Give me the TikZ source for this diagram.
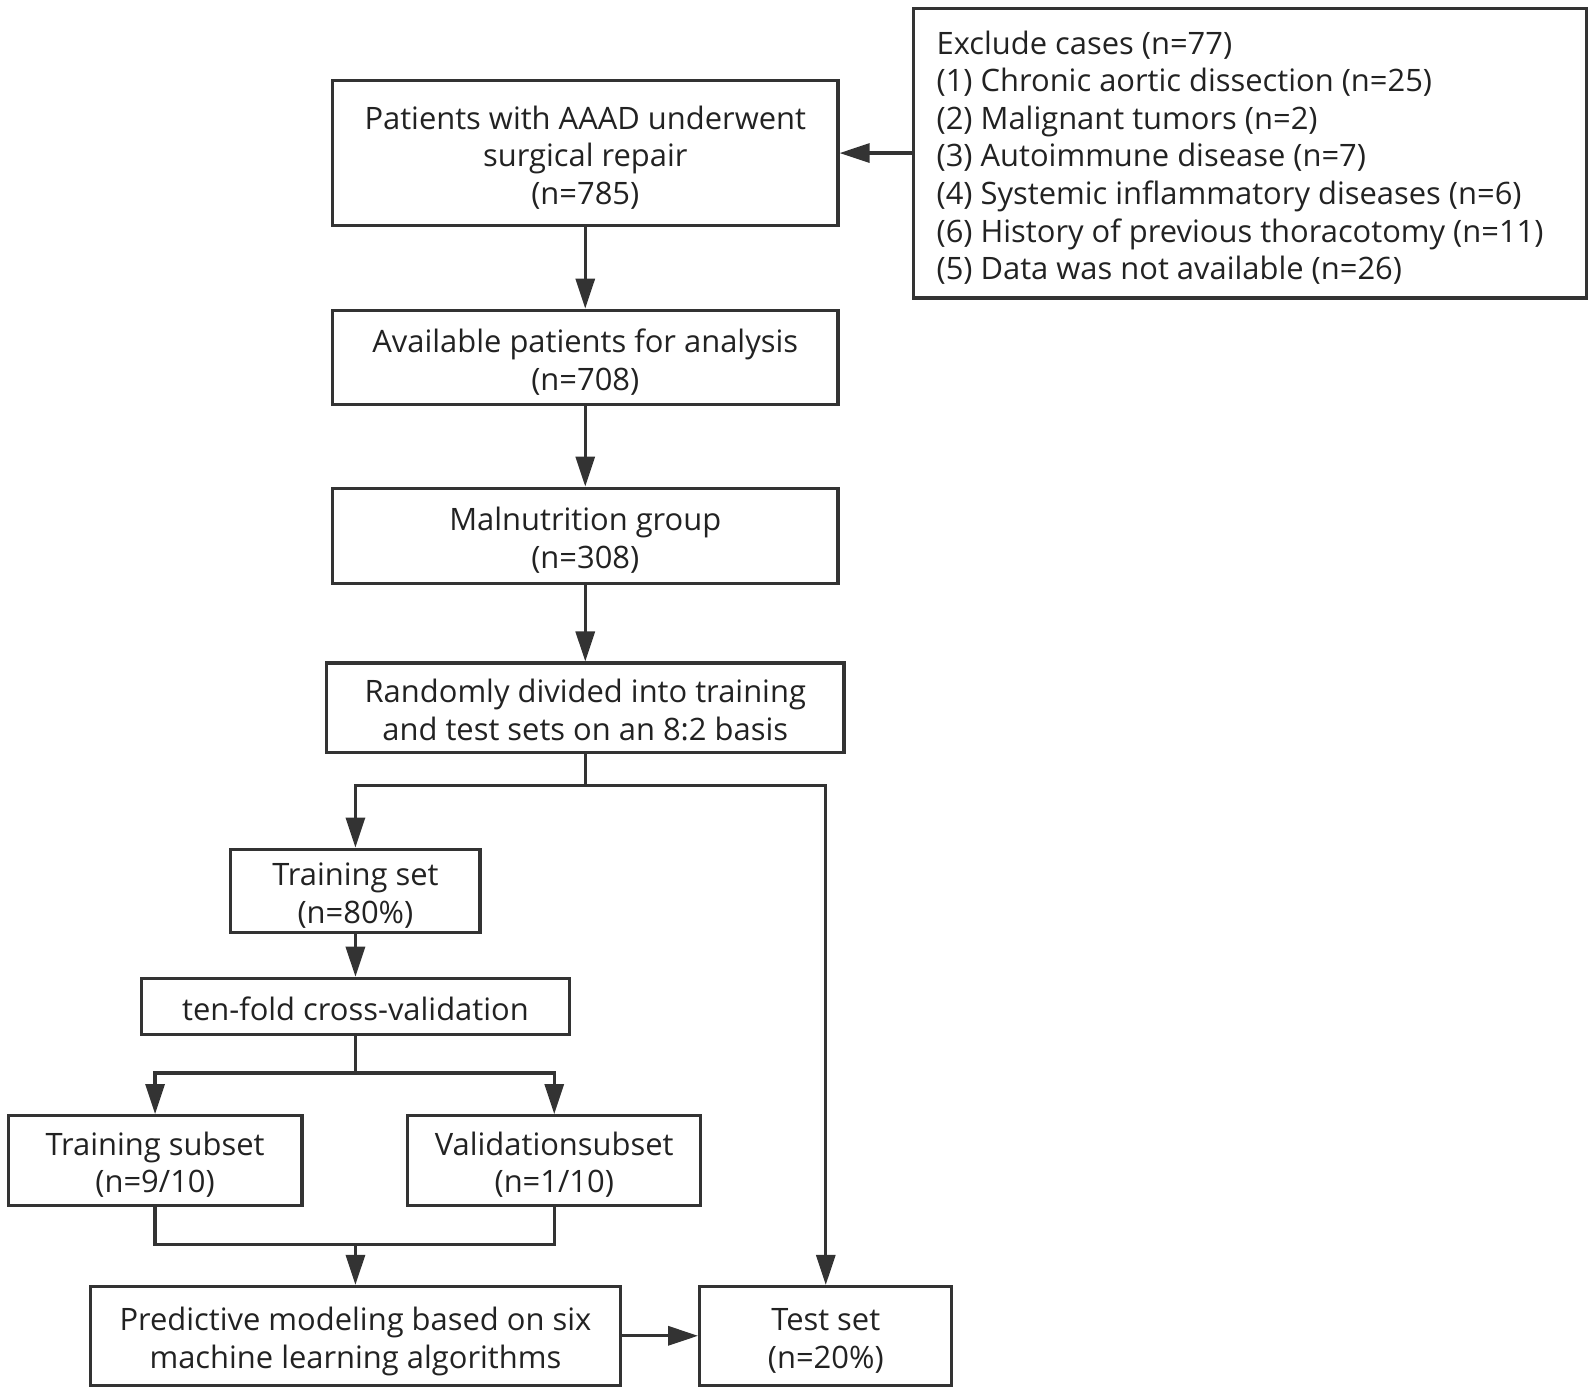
\documentclass[tikz,border=0pt]{standalone}
\usepackage{fontspec}
\setmainfont{Open Sans}
\usetikzlibrary{arrows.meta}
\definecolor{linegray}{HTML}{333333}
\definecolor{textgray}{HTML}{222222}

\begin{document}
\begin{tikzpicture}[x=0.5085pt, y=-0.5085pt,
        box/.style={draw=linegray, line width=1.6pt, align=flush center, inner sep=0pt, text=textgray, font=\fontsize{15.45}{18.8}\selectfont,
            execute at begin node={\rule{0pt}{17.8pt}}, execute at end node={\rule[-4pt]{0pt}{4pt}}},
        boxsize/.style 2 args={minimum width=#1*0.5085pt, minimum height=#2*0.5085pt, text width=(#1-20)*0.5085pt},
        link/.style={draw=linegray, line width=1.6pt, -{Triangle[length=15pt, width=9.5pt]}}]
        \useasboundingbox (0,0) rectangle (1568.4,1370.7);

        \node[box, align=flush left, boxsize={662}{285}, text width=616*0.5085pt, inner xsep=23*0.5085pt] (2) at (1229,150.5) {Exclude cases (n=77)\\(1) Chronic aortic dissection (n=25)\\(2) Malignant tumors (n=2)\\(3) Autoimmune disease (n=7)\\(4) Systemic inflammatory diseases (n=6)\\(6) History of previous thoracotomy (n=11)\\(5) Data was not available (n=26)};
        \node[box, boxsize={497}{143}] (1) at (575.5,150.5) {Patients with AAAD underwent\\surgical repair\\(n=785)};
        \node[box, boxsize={497}{93}] (3) at (575.5,351.5) {Available patients for analysis\\(n=708)};
        \node[box, boxsize={497}{94}] (4) at (575.5,527) {Malnutrition group\\(n=308)};
        \node[box, boxsize={509}{88}] (5) at (575.5,696) {Randomly divided into training\\and test sets on an 8:2 basis};
        \node[box, boxsize={245}{82}] (6) at (349.5,876) {Training set\\(n=80\%)};
        \node[box, boxsize={421}{55}] (7) at (349.5,989.5) {ten-fold cross-validation};
        \node[box, boxsize={289}{88}] (8) at (152.5,1141) {Training subset\\(n=9/10)};
        \node[box, boxsize={288}{88}] (9) at (545,1141) {Validationsubset\\(n=1/10)};
        \node[box, boxsize={521}{97}] (10) at (349.5,1313.5) {Predictive modeling based on six\\machine learning algorithms};
        \node[box, boxsize={248}{97}] (11) at (812,1313.5) {Test set\\(n=20\%)};

        \coordinate (s1) at (575.5,772);
        \coordinate (s2) at (349.5,1055);
        \coordinate (m1) at (349.5,1224);

        \draw[link] (2) -- (1);
        \draw[link] (1) -- (3);
        \draw[link] (3) -- (4);
        \draw[link] (4) -- (5);
        \draw[link] (5.south) -- (s1) -| (6.north);
        \draw[link] (s1) -| (11.north);
        \draw[link] (6) -- (7);
        \draw[link] (7.south) -- (s2) -| (8.north);
        \draw[link] (s2) -| (9.north);
        \draw[draw=linegray, line width=1.6pt] (8.south) |- (m1) -| (9.south);
        \draw[link] (m1) -- (10);
        \draw[link] (10) -- (11);
    \end{tikzpicture}
\end{document}
